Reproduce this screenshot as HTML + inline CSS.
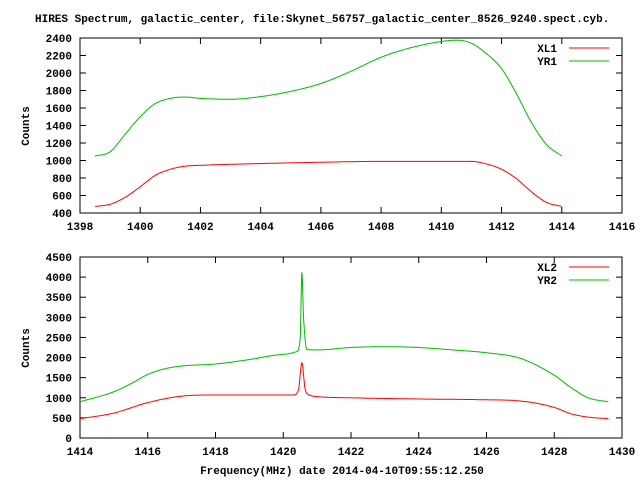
<!DOCTYPE html>
<html><head><style>
body{margin:0;background:#fff}
svg text{font-family:"Liberation Mono",monospace;font-size:11px;font-weight:bold;fill:#000}
</style></head><body>
<svg id="s" width="640" height="480" xmlns="http://www.w3.org/2000/svg">
<text x="35" y="22">HIRES Spectrum, galactic_center, file:Skynet_56757_galactic_center_8526_9240.spect.cyb.</text>
<text x="342" y="474" text-anchor="middle">Frequency(MHz) date 2014-04-10T09:55:12.250</text>
<text transform="translate(29,126) rotate(-90)" text-anchor="middle">Counts</text>
<text transform="translate(29,348) rotate(-90)" text-anchor="middle">Counts</text>
</svg>
<script>
var s=document.getElementById('s'),NS='http://www.w3.org/2000/svg';
function el(t,a,txt){var e=document.createElementNS(NS,t);for(var k in a)e.setAttribute(k,a[k]);if(txt)e.textContent=txt;s.appendChild(e);return e;}
function mono(d){var X=[],Y=[];for(var j=0;j<d.length;j+=2){X.push(d[j]);Y.push(d[j+1]);}
 var n=X.length,dl=[],m=[];for(var i=0;i<n-1;i++)dl.push((Y[i+1]-Y[i])/(X[i+1]-X[i]));
 m[0]=dl[0];m[n-1]=dl[n-2];for(i=1;i<n-1;i++){m[i]=(dl[i-1]*dl[i]<=0)?0:(dl[i-1]+dl[i])/2;}
 for(i=0;i<n-1;i++){if(dl[i]==0){m[i]=m[i+1]=0;continue;}var a=m[i]/dl[i],b=m[i+1]/dl[i],h=a*a+b*b;if(h>9){var t=3/Math.sqrt(h);m[i]=t*a*dl[i];m[i+1]=t*b*dl[i];}}
 var out=[];for(i=0;i<n-1;i++){var hh=X[i+1]-X[i];for(var k=0;k<20;k++){var t=k/20,t2=t*t,t3=t2*t;
  out.push(X[i]+t*hh,(2*t3-3*t2+1)*Y[i]+(t3-2*t2+t)*hh*m[i]+(-2*t3+3*t2)*Y[i+1]+(t3-t2)*hh*m[i+1]);}}
 out.push(X[n-1],Y[n-1]);return out;}
function plot(o){
 var L=80,R=622,T=o.T,B=o.B;
 el('rect',{x:L,y:T,width:R-L,height:B-T,fill:'none',stroke:'#000','stroke-width':1});
 for(var v=o.y0;v<=o.y1;v+=o.ys){var y=B-(v-o.y0)*(B-T)/(o.y1-o.y0);
  el('line',{x1:L,x2:L+6,y1:y,y2:y,stroke:'#000'});el('line',{x1:R,x2:R-6,y1:y,y2:y,stroke:'#000'});
  el('text',{x:L-8,y:y+4,'text-anchor':'end'},''+v);}
 for(var f=o.x0;f<=o.x1;f+=2){var x=L+(f-o.x0)*(R-L)/(o.x1-o.x0);
  el('line',{x1:x,x2:x,y1:B,y2:B-6,stroke:'#000'});el('line',{x1:x,x2:x,y1:T,y2:T+6,stroke:'#000'});
  el('text',{x:x,y:B+17,'text-anchor':'middle'},''+f);}
 o.series.forEach(function(se,i){
  var d=mono(se.d);
  var pts=[];for(var j=0;j<d.length;j+=2){var x=L+(d[j]-o.x0)*(R-L)/(o.x1-o.x0),y=B-(d[j+1]-o.y0)*(B-T)/(o.y1-o.y0);pts.push(x.toFixed(1)+','+y.toFixed(1));}
  el('polyline',{points:pts.join(' '),fill:'none',stroke:se.c,'stroke-width':1});
  var ly=T+10+i*13;el('text',{x:557,y:ly+4,'text-anchor':'end'},se.n);
  el('line',{x1:569,x2:609,y1:ly,y2:ly,stroke:se.c});
 });
}
plot({T:38,B:213,y0:400,y1:2400,ys:200,x0:1398,x1:1416,series:[
 {n:'XL1',c:'#f00',d:[1398.5,475,1399,500,1399.5,580,1400,700,1400.5,830,1401,900,1401.5,935,1402,945,1404,965,1406,980,1408,990,1411,990,1411.5,960,1412,900,1412.5,790,1413,640,1413.5,520,1414,475]},
 {n:'YR1',c:'#0b0',d:[1398.5,1050,1399,1100,1399.5,1300,1400,1500,1400.5,1650,1401,1710,1401.5,1725,1402,1710,1403,1700,1404,1730,1405,1790,1406,1880,1407,2020,1408,2180,1409,2290,1410,2360,1410.5,2375,1411,2340,1411.5,2220,1412,2050,1412.5,1760,1413,1430,1413.5,1180,1414,1050]}]});
plot({T:257,B:438,y0:0,y1:4500,ys:500,x0:1414,x1:1430,series:[
 {n:'XL2',c:'#f00',d:[1414,480,1415,620,1416,880,1417,1040,1418,1070,1420.3,1070,1420.45,1200,1420.55,1870,1420.65,1200,1420.8,1060,1421,1030,1422,1000,1424,970,1426,950,1427,920,1428,760,1428.5,600,1429,520,1429.6,480]},
 {n:'YR2',c:'#0b0',d:[1414,900,1415,1150,1415.5,1350,1416,1580,1416.5,1720,1417,1790,1418,1840,1419,1950,1420,2080,1420.4,2150,1420.5,2500,1420.55,4100,1420.6,3000,1420.7,2200,1421,2190,1422,2250,1423,2270,1424,2250,1425,2190,1426,2120,1427,1980,1428,1560,1428.5,1250,1429,1000,1429.6,900]}]});
</script>
</body></html>
